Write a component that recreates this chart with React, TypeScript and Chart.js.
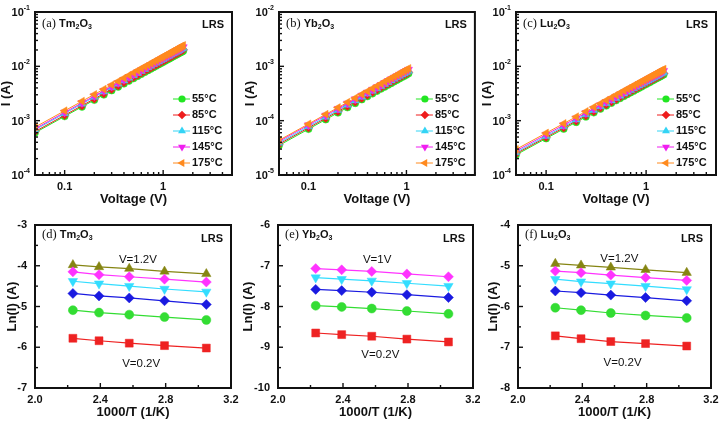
import { useEffect, useRef } from 'react';
import { Chart, registerables } from 'chart.js';
Chart.register(...registerables);

const SANS = '"Liberation Sans", Arial, Helvetica, sans-serif';
const SERIF = '"Liberation Serif", "Times New Roman", serif';
const fB = (px: number) => `bold ${px}px ${SANS}`;
const fN = (px: number) => `${px}px ${SANS}`;

// ---------------- data ----------------
const tempLabels = ['55°C', '85°C', '115°C', '145°C', '175°C'];

// voltages (V)
const aV = [0.05, 0.1, 0.15, 0.2, 0.25, 0.3, 0.35, 0.4, 0.45, 0.5, 0.55, 0.6, 0.65, 0.7, 0.75, 0.8, 0.85, 0.9, 0.95, 1.0, 1.05, 1.1, 1.15, 1.2, 1.25, 1.3, 1.35, 1.4, 1.45, 1.5, 1.55, 1.6];
const bV = [0.05, 0.1, 0.15, 0.2, 0.25, 0.3, 0.35, 0.4, 0.45, 0.5, 0.55, 0.6, 0.65, 0.7, 0.75, 0.8, 0.85, 0.9, 0.95, 1.0, 1.05];
const cV = [0.05, 0.1, 0.15, 0.2, 0.25, 0.3, 0.35, 0.4, 0.45, 0.5, 0.55, 0.6, 0.65, 0.7, 0.75, 0.8, 0.85, 0.9, 0.95, 1.0, 1.05, 1.1, 1.15, 1.2, 1.25, 1.3, 1.35, 1.4, 1.45, 1.5];

// currents (mA)
const a55 = [0.60, 1.20, 1.80, 2.40, 3.00, 3.60, 4.20, 4.80, 5.40, 6.00, 6.60, 7.20, 7.80, 8.40, 9.00, 9.60, 10.2, 10.8, 11.4, 12.0, 12.6, 13.2, 13.8, 14.4, 15.0, 15.6, 16.2, 16.8, 17.4, 18.0, 18.6, 19.2];
const a85 = [0.63, 1.26, 1.89, 2.52, 3.15, 3.78, 4.41, 5.04, 5.67, 6.30, 6.93, 7.56, 8.19, 8.82, 9.45, 10.1, 10.7, 11.3, 12.0, 12.6, 13.2, 13.9, 14.5, 15.1, 15.8, 16.4, 17.0, 17.6, 18.3, 18.9, 19.5, 20.2];
const a115 = [0.68, 1.36, 2.04, 2.72, 3.40, 4.08, 4.76, 5.44, 6.12, 6.80, 7.48, 8.16, 8.84, 9.52, 10.2, 10.9, 11.6, 12.2, 12.9, 13.6, 14.3, 15.0, 15.6, 16.3, 17.0, 17.7, 18.4, 19.0, 19.7, 20.4, 21.1, 21.8];
const a145 = [0.71, 1.42, 2.13, 2.84, 3.55, 4.26, 4.97, 5.68, 6.39, 7.10, 7.81, 8.52, 9.23, 9.94, 10.7, 11.4, 12.1, 12.8, 13.5, 14.2, 14.9, 15.6, 16.3, 17.0, 17.8, 18.5, 19.2, 19.9, 20.6, 21.3, 22.0, 22.7];
const a175 = [0.76, 1.52, 2.28, 3.04, 3.80, 4.56, 5.32, 6.08, 6.84, 7.60, 8.36, 9.12, 9.88, 10.6, 11.4, 12.2, 12.9, 13.7, 14.4, 15.2, 16.0, 16.7, 17.5, 18.2, 19.0, 19.8, 20.5, 21.3, 22.0, 22.8, 23.6, 24.3];

const b55 = [0.035, 0.070, 0.105, 0.140, 0.175, 0.210, 0.245, 0.280, 0.315, 0.350, 0.385, 0.420, 0.455, 0.490, 0.525, 0.560, 0.595, 0.630, 0.665, 0.700, 0.735];
const b85 = [0.037, 0.074, 0.111, 0.148, 0.185, 0.222, 0.259, 0.296, 0.333, 0.370, 0.407, 0.444, 0.481, 0.518, 0.555, 0.592, 0.629, 0.666, 0.703, 0.740, 0.777];
const b115 = [0.039, 0.078, 0.117, 0.156, 0.195, 0.234, 0.273, 0.312, 0.351, 0.390, 0.429, 0.468, 0.507, 0.546, 0.585, 0.624, 0.663, 0.702, 0.741, 0.780, 0.819];
const b145 = [0.0415, 0.083, 0.125, 0.166, 0.208, 0.249, 0.291, 0.332, 0.374, 0.415, 0.457, 0.498, 0.540, 0.581, 0.623, 0.664, 0.706, 0.747, 0.789, 0.830, 0.872];
const b175 = [0.0435, 0.087, 0.131, 0.174, 0.218, 0.261, 0.305, 0.348, 0.392, 0.435, 0.479, 0.522, 0.566, 0.609, 0.653, 0.696, 0.740, 0.783, 0.827, 0.870, 0.914];

const c55 = [0.235, 0.47, 0.705, 0.94, 1.18, 1.41, 1.65, 1.88, 2.12, 2.35, 2.59, 2.82, 3.06, 3.29, 3.53, 3.76, 4.00, 4.23, 4.47, 4.70, 4.94, 5.17, 5.41, 5.64, 5.88, 6.11, 6.35, 6.58, 6.82, 7.05];
const c85 = [0.247, 0.494, 0.741, 0.988, 1.24, 1.48, 1.73, 1.98, 2.22, 2.47, 2.72, 2.96, 3.21, 3.46, 3.71, 3.95, 4.20, 4.45, 4.69, 4.94, 5.19, 5.43, 5.68, 5.93, 6.18, 6.42, 6.67, 6.92, 7.16, 7.41];
const c115 = [0.26, 0.52, 0.78, 1.04, 1.30, 1.56, 1.82, 2.08, 2.34, 2.60, 2.86, 3.12, 3.38, 3.64, 3.90, 4.16, 4.42, 4.68, 4.94, 5.20, 5.46, 5.72, 5.98, 6.24, 6.50, 6.76, 7.02, 7.28, 7.54, 7.80];
const c145 = [0.277, 0.554, 0.831, 1.11, 1.39, 1.66, 1.94, 2.22, 2.49, 2.77, 3.05, 3.32, 3.60, 3.88, 4.16, 4.43, 4.71, 4.99, 5.26, 5.54, 5.82, 6.09, 6.37, 6.65, 6.93, 7.20, 7.48, 7.76, 8.03, 8.31];
const c175 = [0.296, 0.592, 0.888, 1.18, 1.48, 1.78, 2.07, 2.37, 2.66, 2.96, 3.26, 3.55, 3.85, 4.14, 4.44, 4.74, 5.03, 5.33, 5.62, 5.92, 6.22, 6.51, 6.81, 7.10, 7.40, 7.70, 7.99, 8.29, 8.58, 8.88];

// Arrhenius plots: x = 1000/T (1/K) for 175,145,115,85,55 °C ; y = ln(I)
const invT = [2.232, 2.392, 2.577, 2.793, 3.049];
const d02 = [-5.78, -5.84, -5.90, -5.96, -6.02];
const d04 = [-5.09, -5.15, -5.20, -5.26, -5.33];
const d06 = [-4.68, -4.74, -4.79, -4.86, -4.95];
const d08 = [-4.38, -4.44, -4.50, -4.57, -4.64];
const d10 = [-4.15, -4.22, -4.27, -4.33, -4.40];
const d12 = [-3.98, -4.03, -4.07, -4.14, -4.20];

const e02 = [-8.65, -8.69, -8.73, -8.80, -8.87];
const e04 = [-7.98, -8.01, -8.05, -8.11, -8.18];
const e06 = [-7.58, -7.61, -7.65, -7.71, -7.78];
const e08 = [-7.29, -7.33, -7.37, -7.43, -7.50];
const e10 = [-7.07, -7.10, -7.14, -7.20, -7.27];

const f02 = [-6.72, -6.79, -6.86, -6.91, -6.97];
const f04 = [-6.03, -6.09, -6.16, -6.22, -6.28];
const f06 = [-5.62, -5.66, -5.72, -5.78, -5.86];
const f08 = [-5.33, -5.39, -5.44, -5.50, -5.58];
const f10 = [-5.13, -5.17, -5.23, -5.29, -5.36];
const f12 = [-4.95, -4.99, -5.04, -5.10, -5.17];

// ticks
const logXMajor = [0.1, 1];
const logXMinor = [0.05, 0.06, 0.07, 0.08, 0.09, 0.2, 0.3, 0.4, 0.5, 0.6, 0.7, 0.8, 0.9, 2, 3, 4, 5];
const arrXMajor = [2.0, 2.4, 2.8, 3.2];
const arrXMinor = [2.2, 2.6, 3.0];

// ---------------- styles ----------------
type Sty = { color: string; shape: string; r: number; rot: number };
const TOP_STY: Sty[] = [
  { color: '#22e622', shape: 'circle', r: 3.6, rot: 0 },
  { color: '#ee1c1c', shape: 'rectRot', r: 4.3, rot: 0 },
  { color: '#33d4f5', shape: 'triangle', r: 4.6, rot: 0 },
  { color: '#f01ef0', shape: 'triangle', r: 4.6, rot: 180 },
  { color: '#ff8a1e', shape: 'triangle', r: 4.6, rot: -90 },
];
const BOT_STY: Sty[] = [
  { color: '#ee2222', shape: 'rect', r: 5.6, rot: 0 },
  { color: '#33dd33', shape: 'circle', r: 4.5, rot: 0 },
  { color: '#1a1ae0', shape: 'rectRot', r: 5.0, rot: 0 },
  { color: '#33ddff', shape: 'triangle', r: 5.4, rot: 180 },
  { color: '#ff33ff', shape: 'rectRot', r: 5.0, rot: 0 },
  { color: '#858512', shape: 'triangle', r: 5.4, rot: 0 },
];

function ds(xs: number[], ys: number[], s: Sty, scale: number, order: number, lw: number) {
  return {
    data: xs.map((x, i) => ({ x, y: ys[i] * scale })),
    borderColor: s.color,
    backgroundColor: s.color,
    borderWidth: lw,
    pointStyle: s.shape,
    pointRadius: s.r,
    pointHoverRadius: s.r,
    pointRotation: s.rot,
    pointBackgroundColor: s.color,
    pointBorderColor: s.color,
    pointBorderWidth: 0.5,
    tension: 0,
    order,
  };
}

// ---------------- drawing helpers ----------------
type Rich = { t: string; font: string; dy?: number };
function drawRich(ctx: CanvasRenderingContext2D, parts: Rich[], x: number, y: number, align: 'left' | 'center' | 'right') {
  let w = 0;
  for (const p of parts) { ctx.font = p.font; w += ctx.measureText(p.t).width; }
  let cx = align === 'left' ? x : align === 'center' ? x - w / 2 : x - w;
  ctx.textAlign = 'left';
  ctx.textBaseline = 'middle';
  for (const p of parts) {
    ctx.font = p.font;
    ctx.fillText(p.t, cx, y + (p.dy || 0));
    cx += ctx.measureText(p.t).width;
  }
}

function marker(ctx: CanvasRenderingContext2D, s: Sty, x: number, y: number) {
  const r = s.r;
  let rad = (s.rot * Math.PI) / 180;
  ctx.beginPath();
  if (s.shape === 'circle') {
    ctx.arc(x, y, r, 0, Math.PI * 2);
  } else if (s.shape === 'triangle') {
    ctx.moveTo(x + Math.sin(rad) * r, y - Math.cos(rad) * r);
    rad += (2 * Math.PI) / 3;
    ctx.lineTo(x + Math.sin(rad) * r, y - Math.cos(rad) * r);
    rad += (2 * Math.PI) / 3;
    ctx.lineTo(x + Math.sin(rad) * r, y - Math.cos(rad) * r);
  } else if (s.shape === 'rectRot') {
    ctx.moveTo(x, y - r); ctx.lineTo(x + r, y); ctx.lineTo(x, y + r); ctx.lineTo(x - r, y);
  } else {
    const h = r * Math.SQRT1_2;
    ctx.rect(x - h, y - h, 2 * h, 2 * h);
  }
  ctx.closePath();
  ctx.fillStyle = s.color;
  ctx.fill();
}

const supExp = (v: number): Rich[] => [
  { t: '10', font: fB(11) },
  { t: String(Math.round(Math.log10(v))), font: fB(7), dy: -5 },
];

type Note = { text: string; x: number; y: number };
type Panel = {
  x: number; y: number; w: number; h: number;
  pad: { left: number; top: number; right: number; bottom: number };
  log: boolean;
  xMin: number; xMax: number; yMin: number; yMax: number;
  xMajor: number[]; xMinor: number[]; yMajor: number[]; yMinor: number[];
  xTitle: string; yTitle: string; yTitleOff: number;
  tag: string; el: string; tagDy: number; lrsDy: number;
  notes: Note[];
  legend: boolean;
  build: () => any[];
};

function logMinors(lo: number, hi: number) {
  const out: number[] = [];
  for (let e = lo; e < hi; e++) for (let m = 2; m <= 9; m++) out.push(m * Math.pow(10, e));
  return out;
}
function decades(lo: number, hi: number) {
  const out: number[] = [];
  for (let e = lo; e <= hi; e++) out.push(Math.pow(10, e));
  return out;
}
function halfs(lo: number, hi: number) {
  const maj: number[] = []; const min: number[] = [];
  for (let v = lo; v <= hi; v++) { maj.push(v); if (v < hi) min.push(v + 0.5); }
  return [maj, min];
}

function makePlugin(p: Panel) {
  return {
    id: 'panelDecor',
    afterDatasetsDraw(chart: any) {
      const ctx: CanvasRenderingContext2D = chart.ctx;
      const a = chart.chartArea;
      const xs = chart.scales.x;
      const ys = chart.scales.y;
      ctx.save();
      ctx.fillStyle = '#111';
      ctx.strokeStyle = '#111';
      // ticks (inward, left & bottom)
      ctx.lineWidth = 1.4;
      const xt = (vals: number[], len: number) => {
        for (const v of vals) {
          const px = xs.getPixelForValue(v);
          ctx.beginPath(); ctx.moveTo(px, a.bottom); ctx.lineTo(px, a.bottom - len); ctx.stroke();
        }
      };
      const yt = (vals: number[], len: number) => {
        for (const v of vals) {
          const py = ys.getPixelForValue(v);
          ctx.beginPath(); ctx.moveTo(a.left, py); ctx.lineTo(a.left + len, py); ctx.stroke();
        }
      };
      xt(p.xMajor, 5); xt(p.xMinor, 3); yt(p.yMajor, 5); yt(p.yMinor, 3);
      // frame
      ctx.lineWidth = 2;
      ctx.strokeRect(a.left, a.top, a.right - a.left, a.bottom - a.top);
      // tick labels
      ctx.fillStyle = '#111';
      for (const v of p.xMajor) {
        const t = p.log ? String(v) : v.toFixed(1);
        drawRich(ctx, [{ t, font: fB(11) }], xs.getPixelForValue(v), a.bottom + 12, 'center');
      }
      for (const v of p.yMajor) {
        const parts = p.log ? supExp(v) : [{ t: String(v), font: fB(11) }];
        drawRich(ctx, parts, a.left - (p.log ? 5 : 8), ys.getPixelForValue(v) + (p.log ? 1 : 0), 'right');
      }
      // axis titles
      drawRich(ctx, [{ t: p.xTitle, font: fB(13) }], (a.left + a.right) / 2, a.bottom + 24, 'center');
      ctx.save();
      ctx.translate(a.left - p.yTitleOff, (a.top + a.bottom) / 2);
      ctx.rotate(-Math.PI / 2);
      drawRich(ctx, [{ t: p.yTitle, font: fB(13) }], 0, 0, 'center');
      ctx.restore();
      // panel tag
      const el = p.el;
      drawRich(ctx, [
        { t: p.tag + ' ', font: `12.5px ${SERIF}` },
        { t: el.slice(0, 2), font: fB(11) },
        { t: '2', font: fB(7), dy: 3 },
        { t: 'O', font: fB(11) },
        { t: '3', font: fB(7), dy: 3 },
      ], a.left + 7, a.top + p.tagDy, 'left');
      drawRich(ctx, [{ t: 'LRS', font: fB(11) }], a.right - 8, a.top + p.lrsDy, 'right');
      // notes
      for (const n of p.notes) {
        drawRich(ctx, [{ t: n.text, font: fN(11.5) }], xs.getPixelForValue(n.x), ys.getPixelForValue(n.y), 'center');
      }
      // legend
      if (p.legend) {
        tempLabels.forEach((lab, i) => {
          const s = TOP_STY[i];
          const ly = a.top + 87 + 16 * i;
          const mx = a.right - 50;
          ctx.strokeStyle = s.color; ctx.lineWidth = 1;
          ctx.beginPath(); ctx.moveTo(mx - 9, ly); ctx.lineTo(mx + 8, ly); ctx.stroke();
          marker(ctx, s, mx, ly);
          ctx.fillStyle = '#111';
          drawRich(ctx, [{ t: lab, font: fB(11) }], mx + 10, ly, 'left');
        });
      }
      ctx.restore();
    },
  };
}

const [dMaj, dMin] = halfs(-7, -3);
const [eMaj, eMin] = halfs(-10, -6);
const [fMaj, fMin] = halfs(-8, -4);

const topCommon = {
  log: true, xMin: 0.05, xMax: 5, xMajor: logXMajor, xMinor: logXMinor,
  xTitle: 'Voltage (V)', yTitle: 'I (A)', yTitleOff: 29, tagDy: 12, lrsDy: 13,
  notes: [] as Note[], legend: true, y: 0, h: 210,
};
const botCommon = {
  log: false, xMin: 2.0, xMax: 3.2, xMajor: arrXMajor, xMinor: arrXMinor,
  xTitle: '1000/T (1/K)', yTitle: 'Ln(I) (A)', tagDy: 10, lrsDy: 14,
  legend: false, y: 210, h: 211,
};

const topSets = (V: number[], s: number[][]) =>
  s.map((arr, i) => ds(V, arr, TOP_STY[i], 1e-3, 5 - i, 1));
const botSets = (s: number[][], sty: Sty[]) =>
  s.map((arr, i) => ds(invT, arr, sty[i], 1, i, 1.2));

const PANELS: Panel[] = [
  { ...topCommon, x: 0, w: 240, pad: { left: 35, top: 12, right: 8, bottom: 35 },
    yMin: 1e-4, yMax: 1e-1, yMajor: decades(-4, -1), yMinor: logMinors(-4, -1),
    tag: '(a)', el: 'Tm', build: () => topSets(aV, [a55, a85, a115, a145, a175]) },
  { ...topCommon, x: 240, w: 240, pad: { left: 39, top: 12, right: 3, bottom: 35 },
    yMin: 1e-5, yMax: 1e-2, yMajor: decades(-5, -2), yMinor: logMinors(-5, -2),
    tag: '(b)', el: 'Yb', build: () => topSets(bV, [b55, b85, b115, b145, b175]) },
  { ...topCommon, x: 480, w: 244, pad: { left: 36, top: 12, right: 8, bottom: 35 },
    yMin: 1e-4, yMax: 1e-1, yMajor: decades(-4, -1), yMinor: logMinors(-4, -1),
    tag: '(c)', el: 'Lu', build: () => topSets(cV, [c55, c85, c115, c145, c175]) },
  { ...botCommon, x: 0, w: 240, pad: { left: 35, top: 15, right: 9, bottom: 33 },
    yMin: -7, yMax: -3, yMajor: dMaj, yMinor: dMin, yTitleOff: 23,
    tag: '(d)', el: 'Tm',
    notes: [{ text: 'V=1.2V', x: 2.63, y: -3.86 }, { text: 'V=0.2V', x: 2.65, y: -6.41 }],
    build: () => botSets([d02, d04, d06, d08, d10, d12], BOT_STY) },
  { ...botCommon, x: 240, w: 240, pad: { left: 38, top: 15, right: 7, bottom: 33 },
    yMin: -10, yMax: -6, yMajor: eMaj, yMinor: eMin, yTitleOff: 30,
    tag: '(e)', el: 'Yb',
    notes: [{ text: 'V=1V', x: 2.61, y: -6.85 }, { text: 'V=0.2V', x: 2.63, y: -9.18 }],
    build: () => botSets([e02, e04, e06, e08, e10], BOT_STY.slice(0, 5)) },
  { ...botCommon, x: 480, w: 244, pad: { left: 38, top: 15, right: 13, bottom: 33 },
    yMin: -8, yMax: -4, yMajor: fMaj, yMinor: fMin, yTitleOff: 25,
    tag: '(f)', el: 'Lu',
    notes: [{ text: 'V=1.2V', x: 2.63, y: -4.82 }, { text: 'V=0.2V', x: 2.65, y: -7.39 }],
    build: () => botSets([f02, f04, f06, f08, f10, f12], BOT_STY) },
];

function PanelCanvas({ p }: { p: Panel }) {
  const ref = useRef<HTMLCanvasElement>(null);
  useEffect(() => {
    const chart = new Chart(ref.current as HTMLCanvasElement, {
      type: 'line',
      data: { datasets: p.build() },
      options: {
        responsive: false,
        animation: false,
        devicePixelRatio: 1,
        events: [],
        layout: { padding: p.pad },
        plugins: { legend: { display: false }, tooltip: { enabled: false } },
        scales: {
          x: { type: p.log ? 'logarithmic' : 'linear', min: p.xMin, max: p.xMax, display: false },
          y: { type: p.log ? 'logarithmic' : 'linear', min: p.yMin, max: p.yMax, display: false },
        },
      } as any,
      plugins: [makePlugin(p)],
    });
    return () => chart.destroy();
  }, []);
  return (
    <canvas
      ref={ref}
      width={p.w}
      height={p.h}
      style={{ position: 'absolute', left: p.x, top: p.y, width: p.w, height: p.h }}
    />
  );
}

export default function App() {
  return (
    <div style={{ position: 'absolute', left: 0, top: 0, width: 724, height: 421, background: '#fff', overflow: 'hidden' }}>
      {PANELS.map((p, i) => (
        <PanelCanvas key={i} p={p} />
      ))}
    </div>
  );
}
